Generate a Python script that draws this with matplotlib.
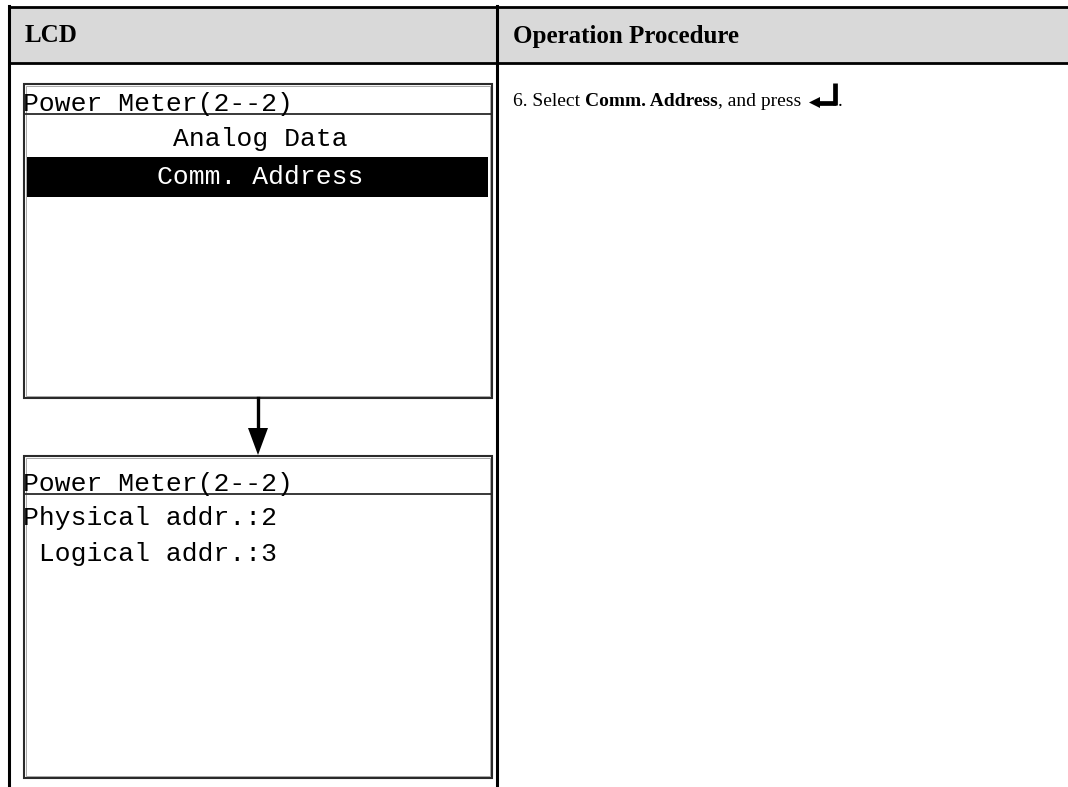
#!/usr/bin/env python3
"""LCD menu step table: Power Meter -> Comm. Address screen."""
import matplotlib
matplotlib.use("Agg")
import matplotlib.pyplot as plt
from matplotlib.patches import Rectangle, Polygon

W, H = 1068, 787

HEADERS = ["LCD", "Operation Procedure"]
SCREEN_TITLE = "Power Meter(2--2)"
MENU_ITEMS = ["Analog Data", "Comm. Address"]
SELECTED = 1
ADDR_LINES = ["Physical addr.:2", " Logical addr.:3"]
STEP_PARTS = [("6. Select ", "normal"), ("Comm. Address", "bold"), (", and press", "normal")]

SERIF = "Liberation Serif"
MONO = "Liberation Mono"
LCD_SIZE = 19
BODY_SIZE = 14

fig = plt.figure(figsize=(W / 100, H / 100), dpi=100)
ax = fig.add_axes([0, 0, 1, 1])
ax.set_xlim(0, W)
ax.set_ylim(H, 0)
ax.axis("off")

# table frame
ax.add_patch(Rectangle((9, 7), W - 9, 56, facecolor="#d9d9d9", edgecolor="none"))
ax.plot([9, W], [7, 7], color="black", lw=2)
ax.plot([9, W], [63, 63], color="black", lw=2)
ax.plot([9, 9], [6, H], color="black", lw=2.2)
ax.plot([497, 497], [6, H], color="black", lw=2.2)

ax.text(25, 36, HEADERS[0], family=SERIF, fontsize=18, fontweight="bold", va="center")
ax.text(513, 36, HEADERS[1], family=SERIF, fontsize=18, fontweight="bold", va="center")


def lcd_box(top, bottom, title_bottom):
    ax.add_patch(Rectangle((24, top), 468, bottom - top, facecolor="white",
                           edgecolor="#2a2a2a", lw=1.5))
    ax.add_patch(Rectangle((26, top + 2), 464, bottom - top - 4, facecolor="none",
                           edgecolor="#9a9a9a", lw=0.6))
    ax.plot([24, 492], [title_bottom, title_bottom], color="#2a2a2a", lw=1.3)
    ax.text(23, title_bottom - 3, SCREEN_TITLE, family=MONO, fontsize=LCD_SIZE, va="baseline")


# first screen: menu
lcd_box(84, 398, 114)
menu_y = [139, 177]
for i, (item, y) in enumerate(zip(MENU_ITEMS, menu_y)):
    if i == SELECTED:
        ax.add_patch(Rectangle((27, y - 20), 461, 40, facecolor="black", edgecolor="none"))
    ax.text(260, y, item, family=MONO, fontsize=LCD_SIZE, ha="center", va="center",
            color="white" if i == SELECTED else "black")

# arrow between screens
ax.plot([258, 258], [398, 430], color="black", lw=2.4)
ax.add_patch(Polygon([[248, 428], [268, 428], [258, 455]], closed=True,
                     facecolor="black", edgecolor="none"))

# second screen: addresses
lcd_box(456, 778, 494)
for line, y in zip(ADDR_LINES, [518, 554]):
    ax.text(23, y, line, family=MONO, fontsize=LCD_SIZE, va="center")

# step text with bold run
x = 513
base_y = 106
prev = None
for txt, weight in STEP_PARTS:
    if prev is None:
        prev = ax.text(x, base_y, txt, family=SERIF, fontsize=BODY_SIZE, fontweight=weight,
                       va="baseline")
    else:
        prev = ax.annotate(txt, xy=(1, base_y), xycoords=(prev, "data"),
                           family=SERIF, fontsize=BODY_SIZE, fontweight=weight, va="baseline")

fig.canvas.draw()
bb = prev.get_window_extent().transformed(ax.transData.inverted())
ex = max(bb.x0, bb.x1) + 8
# enter key symbol
ax.plot([ex + 26, ex + 26], [83, 105], color="black", lw=3.4, solid_capstyle="butt")
ax.plot([ex + 9, ex + 27], [102.5, 102.5], color="black", lw=3.4, solid_capstyle="butt")
ax.add_patch(Polygon([[ex, 102.5], [ex + 11, 97], [ex + 11, 108]], closed=True,
                     facecolor="black", edgecolor="none"))
ax.text(ex + 29, base_y, ".", family=SERIF, fontsize=BODY_SIZE, va="baseline")

fig.savefig("out.png", dpi=100)
